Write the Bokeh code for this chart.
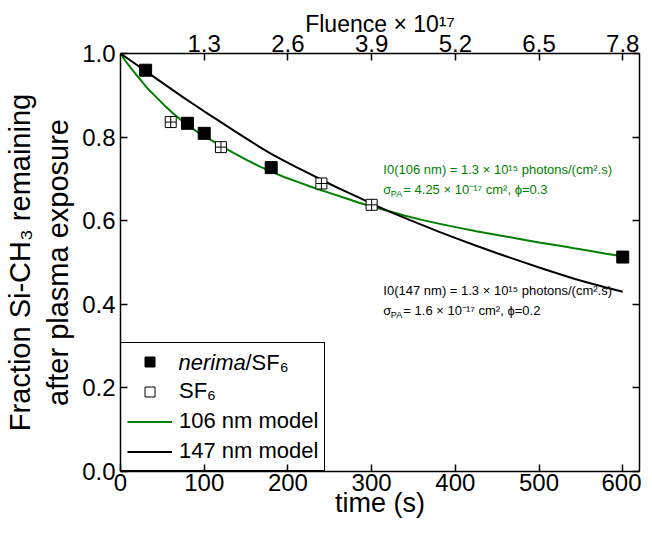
from bokeh.plotting import figure
from bokeh.models import (LinearAxis, FixedTicker, Label, Legend, LegendItem,
                          ColumnDataSource, Range1d)
from bokeh.embed import file_html
from bokeh.resources import INLINE

# ---------------- data ----------------
nerima_t = [30, 80, 100, 180, 600]
nerima_f = [0.960, 0.833, 0.809, 0.727, 0.513]

sf6_t = [60, 120, 240, 300]
sf6_f = [0.836, 0.776, 0.689, 0.638]

model106_t = [0, 6, 12, 18, 24, 33, 43, 52, 61, 71, 81, 90, 100, 110, 120,
              135, 150, 166, 183, 196, 210, 225, 240, 255, 270, 285, 300,
              320, 340, 360, 380, 402, 425, 450, 475, 500, 525, 542, 560,
              580, 600]
model106_f = [1.0, 0.982, 0.966, 0.951, 0.937, 0.915, 0.895, 0.877, 0.860,
              0.843, 0.828, 0.815, 0.803, 0.791, 0.779, 0.762, 0.746, 0.730,
              0.715, 0.704, 0.694, 0.683, 0.673, 0.663, 0.653, 0.643, 0.634,
              0.623, 0.612, 0.602, 0.593, 0.584, 0.575, 0.566, 0.557, 0.548,
              0.540, 0.534, 0.528, 0.521, 0.515]

model147_t = [0, 15, 30, 45, 60, 75, 90, 105, 120, 135, 150, 165, 180, 195,
              210, 225, 240, 255, 270, 285, 300, 320, 340, 360, 380, 402,
              425, 450, 475, 500, 525, 542, 560, 580, 600]
model147_f = [1.0, 0.979, 0.958, 0.937, 0.916, 0.895, 0.875, 0.855, 0.836,
              0.816, 0.797, 0.778, 0.760, 0.744, 0.728, 0.713, 0.698, 0.683,
              0.669, 0.655, 0.641, 0.623, 0.606, 0.590, 0.574, 0.557, 0.540,
              0.522, 0.505, 0.488, 0.472, 0.461, 0.451, 0.440, 0.430]

time_ticks = [0, 100, 200, 300, 400, 500, 600]
frac_ticks = [0.0, 0.2, 0.4, 0.6, 0.8, 1.0]
frac_labels = ["0.0", "0.2", "0.4", "0.6", "0.8", "1.0"]
fluence_tick_time = [100, 200, 300, 400, 500, 600]
fluence_labels = ["1.3", "2.6", "3.9", "5.2", "6.5", "7.8"]

FONT = "Liberation Sans"
GREEN = "#008000"
FW, FH = 519, 418
XMAX = 620

p = figure(frame_width=FW, frame_height=FH, output_backend="svg",
           toolbar_location=None, x_range=Range1d(0, XMAX), y_range=Range1d(0, 1.0),
           min_border_left=115, min_border_top=53, min_border_right=2,
           min_border_bottom=56, x_axis_location=None, y_axis_location=None)
p.outline_line_color = None
p.xgrid.visible = False
p.ygrid.visible = False
p.background_fill_color = "white"


def style_axis(ax, size="24px"):
    ax.axis_line_color = "black"
    ax.axis_line_width = 1.5
    ax.major_tick_in = 7
    ax.major_tick_out = 0
    ax.major_tick_line_width = 1.5
    ax.minor_tick_line_color = None
    ax.major_label_text_font = FONT
    ax.major_label_text_font_size = size
    ax.major_label_text_color = "black"
    ax.axis_label_text_font = FONT
    ax.axis_label_text_font_style = "normal"
    ax.axis_label_text_color = "black"


xb = LinearAxis(ticker=FixedTicker(ticks=time_ticks), axis_label="time (s)")
style_axis(xb)
xb.axis_label_text_font_size = "27px"
xb.major_label_standoff = 2
xb.axis_label_standoff = -6
p.add_layout(xb, "below")

xt = LinearAxis(ticker=FixedTicker(ticks=fluence_tick_time),
                axis_label="Fluence × 10¹⁷",
                major_label_overrides={t: l for t, l in zip(fluence_tick_time, fluence_labels)})
style_axis(xt)
xt.axis_label_text_font_size = "23px"
xt.major_label_standoff = 2
xt.axis_label_standoff = -5
p.add_layout(xt, "above")

yl = LinearAxis(ticker=FixedTicker(ticks=frac_ticks),
                axis_label="Fraction Si-CH₃ remaining\nafter plasma exposure",
                major_label_overrides={t: l for t, l in zip(frac_ticks, frac_labels)})
style_axis(yl)
yl.axis_label_text_font_size = "29px"
yl.major_label_standoff = 5
yl.axis_label_standoff = 5
p.add_layout(yl, "left")

yr = LinearAxis(ticker=FixedTicker(ticks=frac_ticks),
                major_label_overrides={t: "" for t in frac_ticks})
style_axis(yr)
yr.major_label_standoff = 0
p.add_layout(yr, "right")

# ---------------- curves and points ----------------
r106 = p.line(model106_t, model106_f, line_color=GREEN, line_width=2)
r147 = p.line(model147_t, model147_f, line_color="black", line_width=2)
rsf6 = p.scatter(sf6_t, sf6_f, marker="square_cross", size=11,
                 fill_color="white", line_color="black", line_width=1)
rner = p.scatter(nerima_t, nerima_f, marker="square", size=12,
                 fill_color="black", line_color="black")

# legend proxies (not drawn in the plot: NaN position)
nan_src = ColumnDataSource(data=dict(x=[float("nan")], y=[float("nan")]))
lg_ner = p.scatter("x", "y", source=nan_src, marker="square", size=9,
                   fill_color="black", line_color="black")
lg_sf6 = p.scatter("x", "y", source=nan_src, marker="square", size=9,
                   fill_color="white", line_color="black", line_width=1)

PAD, GW, ROW, SP, STAND = 6, 45, 25, 4, 7
LFS = "22px"
legend = Legend(items=[
    LegendItem(label=" ", renderers=[lg_ner]),
    LegendItem(label="SF₆", renderers=[lg_sf6]),
    LegendItem(label="106 nm model", renderers=[r106]),
    LegendItem(label="147 nm model", renderers=[r147]),
], location=(0, 0), padding=PAD, spacing=SP, glyph_width=GW, glyph_height=ROW,
    label_height=ROW, label_width=130, label_standoff=STAND,
    label_text_font=FONT, label_text_font_size=LFS, label_text_color="black",
    border_line_color="black", border_line_width=1, border_line_alpha=1.0,
    background_fill_color=None, background_fill_alpha=0.0,
    margin=0)
p.add_layout(legend, "center")

# first legend text (italic part + normal part)
ly = (PAD + 3 * (ROW + SP) + ROW / 2) / FH
lx = (PAD + GW + STAND) / FW * XMAX
p.add_layout(Label(x=lx, y=ly, y_offset=4, text="nerima", text_font=FONT,
                   text_font_size=LFS, text_font_style="italic",
                   text_baseline="middle", text_color="black"))
p.add_layout(Label(x=lx, y=ly, x_offset=67, y_offset=4, text="/SF₆", text_font=FONT,
                   text_font_size=LFS, text_baseline="middle", text_color="black"))

# ---------------- annotations ----------------
ax0 = 314
AFS = "13px"


def note(y, color, line1, rest):
    p.add_layout(Label(x=ax0, y=y, text=line1, text_font=FONT, text_font_size=AFS,
                       text_color=color, text_baseline="middle"))
    p.add_layout(Label(x=ax0, y=y, y_offset=-20, text="σ", text_font=FONT,
                       text_font_size=AFS, text_color=color, text_baseline="middle"))
    p.add_layout(Label(x=ax0, y=y, x_offset=7.5, y_offset=-24, text="PA", text_font=FONT,
                       text_font_size="9px", text_color=color, text_baseline="middle"))
    p.add_layout(Label(x=ax0, y=y, x_offset=20, y_offset=-20, text=rest, text_font=FONT,
                       text_font_size=AFS, text_color=color, text_baseline="middle"))


note(0.722, GREEN, "I0(106 nm) = 1.3  × 10¹⁵ photons/(cm².s)",
     "= 4.25 × 10⁻¹⁷ cm², ϕ=0.3")
note(0.432, "black", "I0(147 nm) = 1.3  × 10¹⁵ photons/(cm².s)",
     "= 1.6 × 10⁻¹⁷ cm², ϕ=0.2")

open("out.html", "w").write(file_html(p, INLINE))
